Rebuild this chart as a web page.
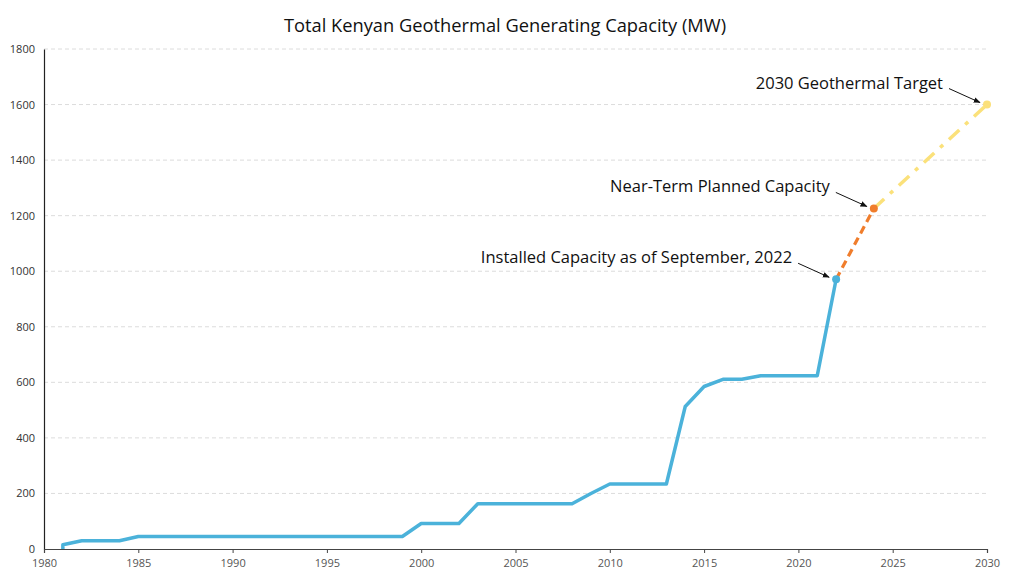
<!DOCTYPE html>
<html>
<head>
<meta charset="utf-8">
<script src="https://cdn.jsdelivr.net/npm/d3@7"></script>
<style>
  body { margin: 0; background: #fff; }
  text { font-family: "Open Sans", Lato, sans-serif; }
</style>
</head>
<body>
<div class="canvas"></div>
<script>
// values (MW)
const installedYears = [1981, 1981, 1982, 1983, 1984, 1985, 1986, 1987, 1988, 1989, 1990, 1991, 1992, 1993, 1994, 1995, 1996, 1997, 1998, 1999, 2000, 2001, 2002, 2003, 2004, 2005, 2006, 2007, 2008, 2009, 2010, 2011, 2012, 2013, 2014, 2015, 2016, 2017, 2018, 2019, 2020, 2021, 2022];
const installedMW = [0, 15, 30, 30, 30, 45, 45, 45, 45, 45, 45, 45, 45, 45, 45, 45, 45, 45, 45, 45, 92, 92, 92, 163, 163, 163, 163, 163, 163, 200, 234, 234, 234, 234, 513, 585, 611, 611, 624, 624, 624, 624, 971];
const plannedYears = [2022, 2024];
const plannedMW = [971, 1226];
const targetYears = [2024, 2030];
const targetMW = [1226, 1600];

const xTicks = [1980, 1985, 1990, 1995, 2000, 2005, 2010, 2015, 2020, 2025, 2030];
const yTicks = [0, 200, 400, 600, 800, 1000, 1200, 1400, 1600, 1800];

const notes = [
  { year: 2022, mw: 971, label: "Installed Capacity as of September, 2022" },
  { year: 2024, mw: 1226, label: "Near-Term Planned Capacity" },
  { year: 2030, mw: 1600, label: "2030 Geothermal Target" }
];

const width = 1024;
const height = 578;
const margin = { top: 49, right: 37, bottom: 29, left: 44 };

const svg = d3
  .select(".canvas")
  .append("svg")
  .attr("width", width)
  .attr("height", height);

svg
  .append("defs")
  .append("marker")
  .attr("id", "arrow")
  .attr("viewBox", "0 0 10 10")
  .attr("refX", 9)
  .attr("refY", 5)
  .attr("markerWidth", 7)
  .attr("markerHeight", 7)
  .attr("orient", "auto")
  .append("path")
  .attr("d", "M0,1 L10,5 L0,9 Z")
  .attr("fill", "#111");

const x = d3
  .scaleLinear()
  .domain([1980, 2030])
  .range([margin.left, width - margin.right]);

const y = d3
  .scaleLinear()
  .domain([0, 1800])
  .range([height - margin.bottom, margin.top]);

// title
svg
  .append("text")
  .attr("x", 505)
  .attr("y", 32)
  .attr("text-anchor", "middle")
  .attr("font-size", 18.3)
  .attr("fill", "#111")
  .text("Total Kenyan Geothermal Generating Capacity (MW)");

// gridlines
svg
  .append("g")
  .selectAll("line")
  .data(yTicks.filter((d) => d > 0))
  .enter()
  .append("line")
  .attr("x1", x(1980))
  .attr("x2", x(2030))
  .attr("y1", (d) => y(d))
  .attr("y2", (d) => y(d))
  .attr("stroke", "#dcdcdc")
  .attr("stroke-width", 1)
  .attr("stroke-dasharray", "4,3");

// y axis
const yAxis = svg
  .append("g")
  .attr("transform", `translate(${margin.left},0)`)
  .call(
    d3
      .axisLeft(y)
      .tickValues(yTicks)
      .tickFormat(d3.format("d"))
      .tickSize(0)
      .tickPadding(9)
  );
yAxis.select(".domain").attr("stroke", "#222").attr("stroke-width", 1.2);
yAxis
  .selectAll("text")
  .attr("font-family", "Lato, sans-serif")
  .attr("font-size", 11)
  .attr("fill", "#333");

// x axis
const xAxis = svg
  .append("g")
  .attr("transform", `translate(0,${y(0)})`)
  .call(
    d3
      .axisBottom(x)
      .tickValues(xTicks)
      .tickFormat(d3.format("d"))
      .tickSize(4)
      .tickPadding(6)
  );
xAxis.select(".domain").attr("stroke", "#444").attr("stroke-width", 1.2);
xAxis.selectAll(".tick line").attr("stroke", "#444");
xAxis
  .selectAll("text")
  .attr("font-family", "Lato, sans-serif")
  .attr("font-size", 11)
  .attr("fill", "#555");

const line = d3
  .line()
  .x((d) => x(d[0]))
  .y((d) => y(d[1]));

// installed
svg
  .append("path")
  .datum(d3.zip(installedYears, installedMW))
  .attr("d", line)
  .attr("fill", "none")
  .attr("stroke", "#4bb2da")
  .attr("stroke-width", 3.5)
  .attr("stroke-linejoin", "round");

// near-term planned
svg
  .append("path")
  .datum(d3.zip(plannedYears, plannedMW))
  .attr("d", line)
  .attr("fill", "none")
  .attr("stroke", "#f07d2c")
  .attr("stroke-width", 3.2)
  .attr("stroke-dasharray", "8,5");

// 2030 target
svg
  .append("path")
  .datum(d3.zip(targetYears, targetMW))
  .attr("d", line)
  .attr("fill", "none")
  .attr("stroke", "#fbe17a")
  .attr("stroke-width", 3.5)
  .attr("stroke-dasharray", "14,8,4,8");

// end points
const pointColors = ["#4bb2da", "#f07d2c", "#fbe07a"];
svg
  .append("g")
  .selectAll("circle")
  .data(notes)
  .enter()
  .append("circle")
  .attr("cx", (d) => x(d.year))
  .attr("cy", (d) => y(d.mw))
  .attr("r", 4)
  .attr("fill", (d, i) => pointColors[i]);

// annotations
const noteG = svg
  .append("g")
  .selectAll("g")
  .data(notes)
  .enter()
  .append("g");

noteG
  .append("text")
  .attr("x", (d) => x(d.year) - 44)
  .attr("y", (d) => y(d.mw) - 16)
  .attr("text-anchor", "end")
  .attr("font-size", 16.5)
  .attr("fill", "#111")
  .text((d) => d.label);

noteG
  .append("line")
  .attr("x1", (d) => x(d.year) - 38)
  .attr("y1", (d) => y(d.mw) - 16)
  .attr("x2", (d) => x(d.year) - 7)
  .attr("y2", (d) => y(d.mw) - 2)
  .attr("stroke", "#111")
  .attr("stroke-width", 1)
  .attr("marker-end", "url(#arrow)");
</script>
</body>
</html>
